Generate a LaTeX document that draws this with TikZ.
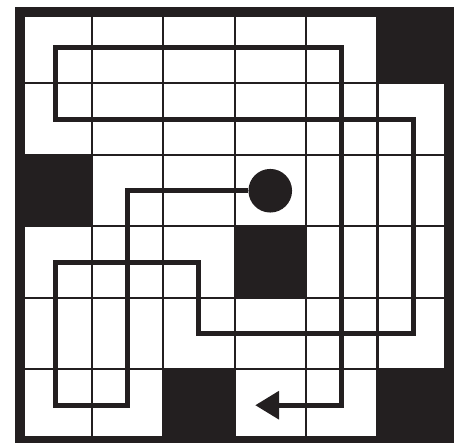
\documentclass[tikz,border=0pt]{standalone}
\usepackage{tikz}
\usetikzlibrary{arrows.meta}
\definecolor{inkblack}{HTML}{231F20}

\begin{document}
\begin{tikzpicture}[
  cellline/.style={draw=inkblack, line width=0.8pt},
  blockcell/.style={fill=inkblack, draw=inkblack, line width=0.8pt},
  frameline/.style={draw=inkblack, line width=4pt},
  route/.style={draw=inkblack, line width=1.85pt, -{Triangle[length=9.5pt, width=11pt]}},
  startdot/.style={circle, fill=inkblack, inner sep=0pt, minimum size=0.61cm}
]
\useasboundingbox (-0.28,-0.028) rectangle (6.238,6.168);

% thin cell lines
\draw[cellline] (0,0) grid (6,6);

% black cells
\path[blockcell] (5,5) rectangle (6,6);
\path[blockcell] (0,3) rectangle (1,4);
\path[blockcell] (3,2) rectangle (4,3);
\path[blockcell] (2,0) rectangle (3,1);
\path[blockcell] (5,0) rectangle (6,1);

% outer frame
\draw[frameline] (0,0) rectangle (6,6);

\node[startdot] (start) at (3.5,3.5) {};
\coordinate (finish) at (3.29,0.5);

\draw[route] (start) -- (1.5,3.5) -- (1.5,0.5) -- (0.5,0.5) -- (0.5,2.5)
  -- (2.5,2.5) -- (2.5,1.5) -- (5.5,1.5) -- (5.5,4.5) -- (0.5,4.5)
  -- (0.5,5.5) -- (4.5,5.5) -- (4.5,0.5) -- (finish);

\end{tikzpicture}
\end{document}
